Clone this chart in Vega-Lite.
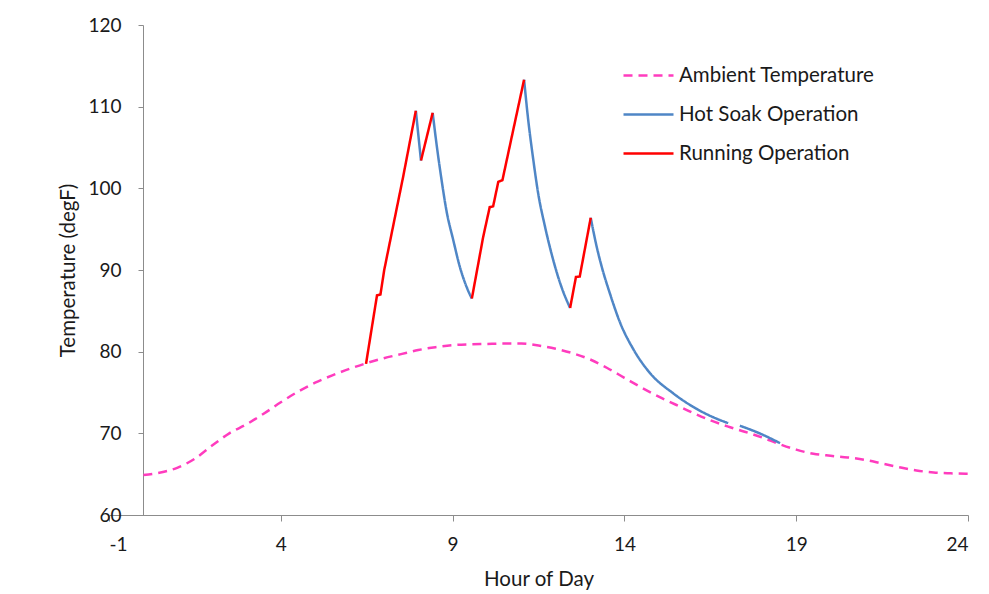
{
  "$schema": "https://vega.github.io/schema/vega-lite/v6.json",
  "width": 859,
  "height": 490,
  "autosize": {"type": "none"},
  "padding": {"left": 109, "top": 25, "right": 21, "bottom": 79},
  "background": "white",
  "config": {
    "view": {"stroke": null},
    "font": "Lato",
    "axis": {
      "domainColor": "#8c8c8c",
      "domainWidth": 1,
      "tickColor": "#8c8c8c",
      "tickWidth": 1,
      "grid": false,
      "labelFont": "Lato",
      "labelFontSize": 19,
      "labelColor": "#1a1a1a",
      "titleFont": "Lato",
      "titleFontSize": 20.5,
      "titleFontWeight": "normal",
      "titleColor": "#1a1a1a"
    },
    "legend": {
      "orient": "none",
      "legendX": 513,
      "legendY": 24,
      "title": null,
      "symbolType": "stroke",
      "symbolSize": 2500,
      "symbolStrokeWidth": 2.5,
      "labelFont": "Lato",
      "labelFontSize": 20.5,
      "labelLimit": 0,
      "labelColor": "#1a1a1a",
      "labelOffset": 4,
      "rowPadding": 2
    }
  },
  "datasets": {
    "ambient": [
      {"series": "Ambient Temperature", "seg": "A", "hour": 0, "temp": 64.9},
      {"series": "Ambient Temperature", "seg": "A", "hour": 0.5, "temp": 65.2},
      {"series": "Ambient Temperature", "seg": "A", "hour": 1, "temp": 65.8},
      {"series": "Ambient Temperature", "seg": "A", "hour": 1.5, "temp": 66.9},
      {"series": "Ambient Temperature", "seg": "A", "hour": 2, "temp": 68.5},
      {"series": "Ambient Temperature", "seg": "A", "hour": 2.5, "temp": 70.0},
      {"series": "Ambient Temperature", "seg": "A", "hour": 3, "temp": 71.1},
      {"series": "Ambient Temperature", "seg": "A", "hour": 3.5, "temp": 72.4},
      {"series": "Ambient Temperature", "seg": "A", "hour": 4, "temp": 73.8},
      {"series": "Ambient Temperature", "seg": "A", "hour": 4.5, "temp": 75.1},
      {"series": "Ambient Temperature", "seg": "A", "hour": 5, "temp": 76.2},
      {"series": "Ambient Temperature", "seg": "A", "hour": 5.5, "temp": 77.1},
      {"series": "Ambient Temperature", "seg": "A", "hour": 6, "temp": 77.9},
      {"series": "Ambient Temperature", "seg": "A", "hour": 6.5, "temp": 78.6},
      {"series": "Ambient Temperature", "seg": "A", "hour": 7, "temp": 79.2},
      {"series": "Ambient Temperature", "seg": "A", "hour": 7.5, "temp": 79.7},
      {"series": "Ambient Temperature", "seg": "A", "hour": 8, "temp": 80.2},
      {"series": "Ambient Temperature", "seg": "A", "hour": 8.5, "temp": 80.55},
      {"series": "Ambient Temperature", "seg": "A", "hour": 9, "temp": 80.8},
      {"series": "Ambient Temperature", "seg": "A", "hour": 9.5, "temp": 80.9},
      {"series": "Ambient Temperature", "seg": "A", "hour": 10, "temp": 80.95},
      {"series": "Ambient Temperature", "seg": "A", "hour": 10.5, "temp": 81.0},
      {"series": "Ambient Temperature", "seg": "A", "hour": 11, "temp": 81.0},
      {"series": "Ambient Temperature", "seg": "A", "hour": 11.5, "temp": 80.75},
      {"series": "Ambient Temperature", "seg": "A", "hour": 12, "temp": 80.35},
      {"series": "Ambient Temperature", "seg": "A", "hour": 12.5, "temp": 79.8},
      {"series": "Ambient Temperature", "seg": "A", "hour": 13, "temp": 79.05},
      {"series": "Ambient Temperature", "seg": "A", "hour": 13.5, "temp": 78.0},
      {"series": "Ambient Temperature", "seg": "A", "hour": 14, "temp": 76.8},
      {"series": "Ambient Temperature", "seg": "A", "hour": 14.5, "temp": 75.6},
      {"series": "Ambient Temperature", "seg": "A", "hour": 15, "temp": 74.5},
      {"series": "Ambient Temperature", "seg": "A", "hour": 15.5, "temp": 73.5},
      {"series": "Ambient Temperature", "seg": "A", "hour": 16, "temp": 72.5},
      {"series": "Ambient Temperature", "seg": "A", "hour": 16.5, "temp": 71.6},
      {"series": "Ambient Temperature", "seg": "A", "hour": 17, "temp": 70.85},
      {"series": "Ambient Temperature", "seg": "A", "hour": 17.5, "temp": 70.2},
      {"series": "Ambient Temperature", "seg": "A", "hour": 18, "temp": 69.5},
      {"series": "Ambient Temperature", "seg": "A", "hour": 18.5, "temp": 68.7},
      {"series": "Ambient Temperature", "seg": "A", "hour": 19, "temp": 68.0},
      {"series": "Ambient Temperature", "seg": "A", "hour": 19.5, "temp": 67.5},
      {"series": "Ambient Temperature", "seg": "A", "hour": 20, "temp": 67.25},
      {"series": "Ambient Temperature", "seg": "A", "hour": 20.5, "temp": 67.05},
      {"series": "Ambient Temperature", "seg": "A", "hour": 21, "temp": 66.75},
      {"series": "Ambient Temperature", "seg": "A", "hour": 21.5, "temp": 66.3},
      {"series": "Ambient Temperature", "seg": "A", "hour": 22, "temp": 65.85},
      {"series": "Ambient Temperature", "seg": "A", "hour": 22.5, "temp": 65.45},
      {"series": "Ambient Temperature", "seg": "A", "hour": 23, "temp": 65.2},
      {"series": "Ambient Temperature", "seg": "A", "hour": 23.5, "temp": 65.1},
      {"series": "Ambient Temperature", "seg": "A", "hour": 24, "temp": 65.05}
    ],
    "running": [
      {"series": "Running Operation", "seg": "R1", "hour": 6.48, "temp": 78.5},
      {"series": "Running Operation", "seg": "R1", "hour": 6.80, "temp": 86.9},
      {"series": "Running Operation", "seg": "R1", "hour": 6.90, "temp": 87.0},
      {"series": "Running Operation", "seg": "R1", "hour": 7.01, "temp": 90.0},
      {"series": "Running Operation", "seg": "R1", "hour": 7.42, "temp": 98.5},
      {"series": "Running Operation", "seg": "R1", "hour": 7.56, "temp": 101.4},
      {"series": "Running Operation", "seg": "R1", "hour": 7.93, "temp": 109.5},
      {"series": "Running Operation", "seg": "R2", "hour": 8.08, "temp": 103.4},
      {"series": "Running Operation", "seg": "R2", "hour": 8.42, "temp": 109.25},
      {"series": "Running Operation", "seg": "R3", "hour": 9.56, "temp": 86.5},
      {"series": "Running Operation", "seg": "R3", "hour": 9.89, "temp": 94.05},
      {"series": "Running Operation", "seg": "R3", "hour": 10.08, "temp": 97.7},
      {"series": "Running Operation", "seg": "R3", "hour": 10.18, "temp": 97.8},
      {"series": "Running Operation", "seg": "R3", "hour": 10.33, "temp": 100.8},
      {"series": "Running Operation", "seg": "R3", "hour": 10.45, "temp": 101.0},
      {"series": "Running Operation", "seg": "R3", "hour": 11.08, "temp": 113.3},
      {"series": "Running Operation", "seg": "R4", "hour": 12.42, "temp": 85.35},
      {"series": "Running Operation", "seg": "R4", "hour": 12.59, "temp": 89.15},
      {"series": "Running Operation", "seg": "R4", "hour": 12.70, "temp": 89.2},
      {"series": "Running Operation", "seg": "R4", "hour": 13.02, "temp": 96.4}
    ],
    "soak": [
      {"series": "Hot Soak Operation", "seg": "H1", "hour": 7.93, "temp": 109.5},
      {"series": "Hot Soak Operation", "seg": "H1", "hour": 8.08, "temp": 103.4},
      {"series": "Hot Soak Operation", "seg": "H2", "hour": 8.42, "temp": 109.25},
      {"series": "Hot Soak Operation", "seg": "H2", "hour": 8.53, "temp": 105.5},
      {"series": "Hot Soak Operation", "seg": "H2", "hour": 8.68, "temp": 101.0},
      {"series": "Hot Soak Operation", "seg": "H2", "hour": 8.82, "temp": 97.3},
      {"series": "Hot Soak Operation", "seg": "H2", "hour": 9.02, "temp": 93.65},
      {"series": "Hot Soak Operation", "seg": "H2", "hour": 9.21, "temp": 90.4},
      {"series": "Hot Soak Operation", "seg": "H2", "hour": 9.41, "temp": 87.9},
      {"series": "Hot Soak Operation", "seg": "H2", "hour": 9.56, "temp": 86.5},
      {"series": "Hot Soak Operation", "seg": "H3", "hour": 11.08, "temp": 113.3},
      {"series": "Hot Soak Operation", "seg": "H3", "hour": 11.20, "temp": 108.4},
      {"series": "Hot Soak Operation", "seg": "H3", "hour": 11.35, "temp": 103.45},
      {"series": "Hot Soak Operation", "seg": "H3", "hour": 11.49, "temp": 99.4},
      {"series": "Hot Soak Operation", "seg": "H3", "hour": 11.69, "temp": 95.3},
      {"series": "Hot Soak Operation", "seg": "H3", "hour": 11.93, "temp": 91.2},
      {"series": "Hot Soak Operation", "seg": "H3", "hour": 12.17, "temp": 87.9},
      {"series": "Hot Soak Operation", "seg": "H3", "hour": 12.42, "temp": 85.35},
      {"series": "Hot Soak Operation", "seg": "H4", "hour": 13.02, "temp": 96.4},
      {"series": "Hot Soak Operation", "seg": "H4", "hour": 13.18, "temp": 93.1},
      {"series": "Hot Soak Operation", "seg": "H4", "hour": 13.34, "temp": 90.4},
      {"series": "Hot Soak Operation", "seg": "H4", "hour": 13.58, "temp": 87.1},
      {"series": "Hot Soak Operation", "seg": "H4", "hour": 13.87, "temp": 83.6},
      {"series": "Hot Soak Operation", "seg": "H4", "hour": 14.26, "temp": 80.3},
      {"series": "Hot Soak Operation", "seg": "H4", "hour": 14.74, "temp": 77.4},
      {"series": "Hot Soak Operation", "seg": "H4", "hour": 15.42, "temp": 74.9},
      {"series": "Hot Soak Operation", "seg": "H4", "hour": 16.10, "temp": 73.0},
      {"series": "Hot Soak Operation", "seg": "H4", "hour": 16.68, "temp": 71.8},
      {"series": "Hot Soak Operation", "seg": "H4", "hour": 17.02, "temp": 71.25},
      {"series": "Hot Soak Operation", "seg": "H5", "hour": 17.36, "temp": 70.93},
      {"series": "Hot Soak Operation", "seg": "H5", "hour": 17.85, "temp": 70.15},
      {"series": "Hot Soak Operation", "seg": "H5", "hour": 18.53, "temp": 68.8}
    ]
  },
  "encoding": {
    "x": {
      "field": "hour",
      "type": "quantitative",
      "scale": {"domain": [-1, 24], "nice": false, "zero": false},
      "axis": {
        "values": [-1, 4, 9, 14, 19, 24],
        "labelExpr": "'' + datum.value",
        "title": "Hour of Day",
        "tickSize": 6,
        "labelPadding": 14,
        "titleBaseline": "middle",
        "titleY": 64
      }
    },
    "y": {
      "field": "temp",
      "type": "quantitative",
      "scale": {"domain": [60, 120], "nice": false, "zero": false},
      "axis": {
        "values": [60, 70, 80, 90, 100, 110, 120],
        "title": "Temperature (degF)",
        "offset": -34,
        "tickSize": 5,
        "labelPadding": 17,
        "titleBaseline": "middle",
        "titleX": -75,
        "titleY": 245
      }
    },
    "color": {
      "field": "series",
      "type": "nominal",
      "scale": {
        "domain": ["Ambient Temperature", "Hot Soak Operation", "Running Operation"],
        "range": ["#ff3cbe", "#4f86c6", "#ff0000"]
      }
    },
    "strokeDash": {
      "field": "series",
      "type": "nominal",
      "scale": {
        "domain": ["Ambient Temperature", "Hot Soak Operation", "Running Operation"],
        "range": [[9, 6], [1, 0], [1, 0]]
      }
    },
    "detail": {"field": "seg", "type": "nominal"}
  },
  "layer": [
    {
      "data": {"name": "ambient"},
      "mark": {"type": "line", "strokeWidth": 2.5, "interpolate": "monotone"}
    },
    {
      "data": {"name": "soak"},
      "mark": {"type": "line", "strokeWidth": 2.5, "interpolate": "monotone"}
    },
    {
      "data": {"name": "running"},
      "mark": {"type": "line", "strokeWidth": 2.5}
    }
  ]
}
